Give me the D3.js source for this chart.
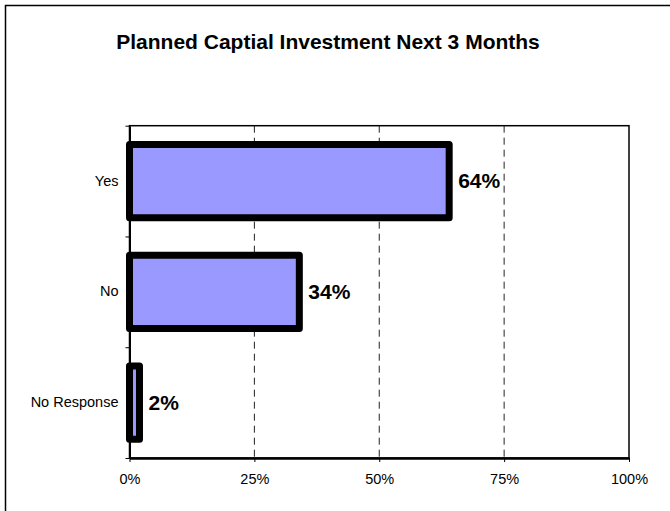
<!DOCTYPE html>
<html>
<head>
<meta charset="utf-8">
<script src="https://cdn.jsdelivr.net/npm/d3@7"></script>
<style>
  html, body { margin: 0; padding: 0; background: #fff; }
  svg { display: block; font-family: "Liberation Sans", Arial, sans-serif; }
</style>
</head>
<body>
<svg id="chart" width="670" height="511"></svg>
<script>
// Survey responses: share of businesses planning capital investment
const categories = ["Yes", "No", "No Response"];
const shares = [0.64, 0.34, 0.02];
const shareLabels = ["64%", "34%", "2%"];
const xTickValues = [0, 0.25, 0.5, 0.75, 1];
const gridValues = [0.25, 0.5, 0.75];
const title = "Planned Captial Investment Next 3 Months";

const svg = d3.select("#chart");

// outer chart frame (right/bottom edges fall outside the canvas)
svg.append("rect")
  .attr("x", 5.5).attr("y", 5.5)
  .attr("width", 700).attr("height", 540)
  .attr("fill", "#fff").attr("stroke", "#000").attr("stroke-width", 1.5);

svg.append("text")
  .attr("x", 328).attr("y", 49)
  .attr("text-anchor", "middle")
  .attr("font-size", "21px").attr("font-weight", "bold")
  .text(title);

const plot = { left: 129.5, right: 629, top: 125.7, bottom: 458 };

const x = d3.scaleLinear().domain([0, 1]).range([plot.left, plot.right]);
const y = d3.scaleBand().domain(categories)
  .range([plot.top, plot.bottom])
  .paddingInner(0.34).paddingOuter(0.17);
// category boundaries for the left-axis tick marks
const yEdge = d3.scaleLinear().domain([0, categories.length]).range([plot.top, plot.bottom]);

// dashed vertical gridlines
svg.append("g").selectAll("line").data(gridValues).join("line")
  .attr("x1", d => x(d)).attr("x2", d => x(d))
  .attr("y1", plot.top).attr("y2", plot.bottom)
  .attr("stroke", "#222").attr("stroke-width", 1)
  .attr("stroke-dasharray", "7,5");

// plot area frame
svg.append("rect")
  .attr("x", plot.left).attr("y", plot.top)
  .attr("width", plot.right - plot.left).attr("height", plot.bottom - plot.top)
  .attr("fill", "none").attr("stroke", "#000").attr("stroke-width", 1.5);

// x axis
const xAxis = svg.append("g")
  .attr("transform", `translate(0,${plot.bottom})`)
  .call(d3.axisBottom(x).tickValues(xTickValues).tickFormat(d3.format(".0%"))
    .tickSize(4).tickPadding(12).tickSizeOuter(0));
xAxis.select(".domain").attr("stroke-width", 2.5);
xAxis.selectAll(".tick line").attr("stroke-width", 1);
xAxis.selectAll("text").attr("font-size", "14.5px").attr("font-family", "Liberation Sans, Arial, sans-serif").attr("fill", "#000");

// y axis: tick marks at category boundaries
const yTicks = svg.append("g")
  .attr("transform", `translate(${plot.left},0)`)
  .call(d3.axisLeft(yEdge).tickValues(d3.range(categories.length + 1))
    .tickFormat("").tickSize(4).tickSizeOuter(0));
yTicks.select(".domain").attr("stroke-width", 2);

// y axis: category labels
const yLabels = svg.append("g")
  .attr("transform", `translate(${plot.left},0)`)
  .call(d3.axisLeft(y).tickSize(0).tickPadding(11));
yLabels.select(".domain").remove();
yLabels.selectAll("text").attr("font-size", "14.5px").attr("font-family", "Liberation Sans, Arial, sans-serif").attr("fill", "#000");

// bars
svg.append("g").selectAll("rect").data(categories).join("rect")
  .attr("x", x(0))
  .attr("y", d => y(d))
  .attr("width", (d, i) => x(shares[i]) - x(0))
  .attr("height", y.bandwidth())
  .attr("fill", "#9999ff")
  .attr("stroke", "#000").attr("stroke-width", 7)
  .attr("stroke-linejoin", "round");

// value labels
svg.append("g").selectAll("text").data(categories).join("text")
  .attr("x", (d, i) => x(shares[i]) + 9)
  .attr("y", d => y(d) + y.bandwidth() / 2)
  .attr("dy", "0.35em")
  .attr("font-size", "21px").attr("font-weight", "bold")
  .text((d, i) => shareLabels[i]);
</script>
</body>
</html>
